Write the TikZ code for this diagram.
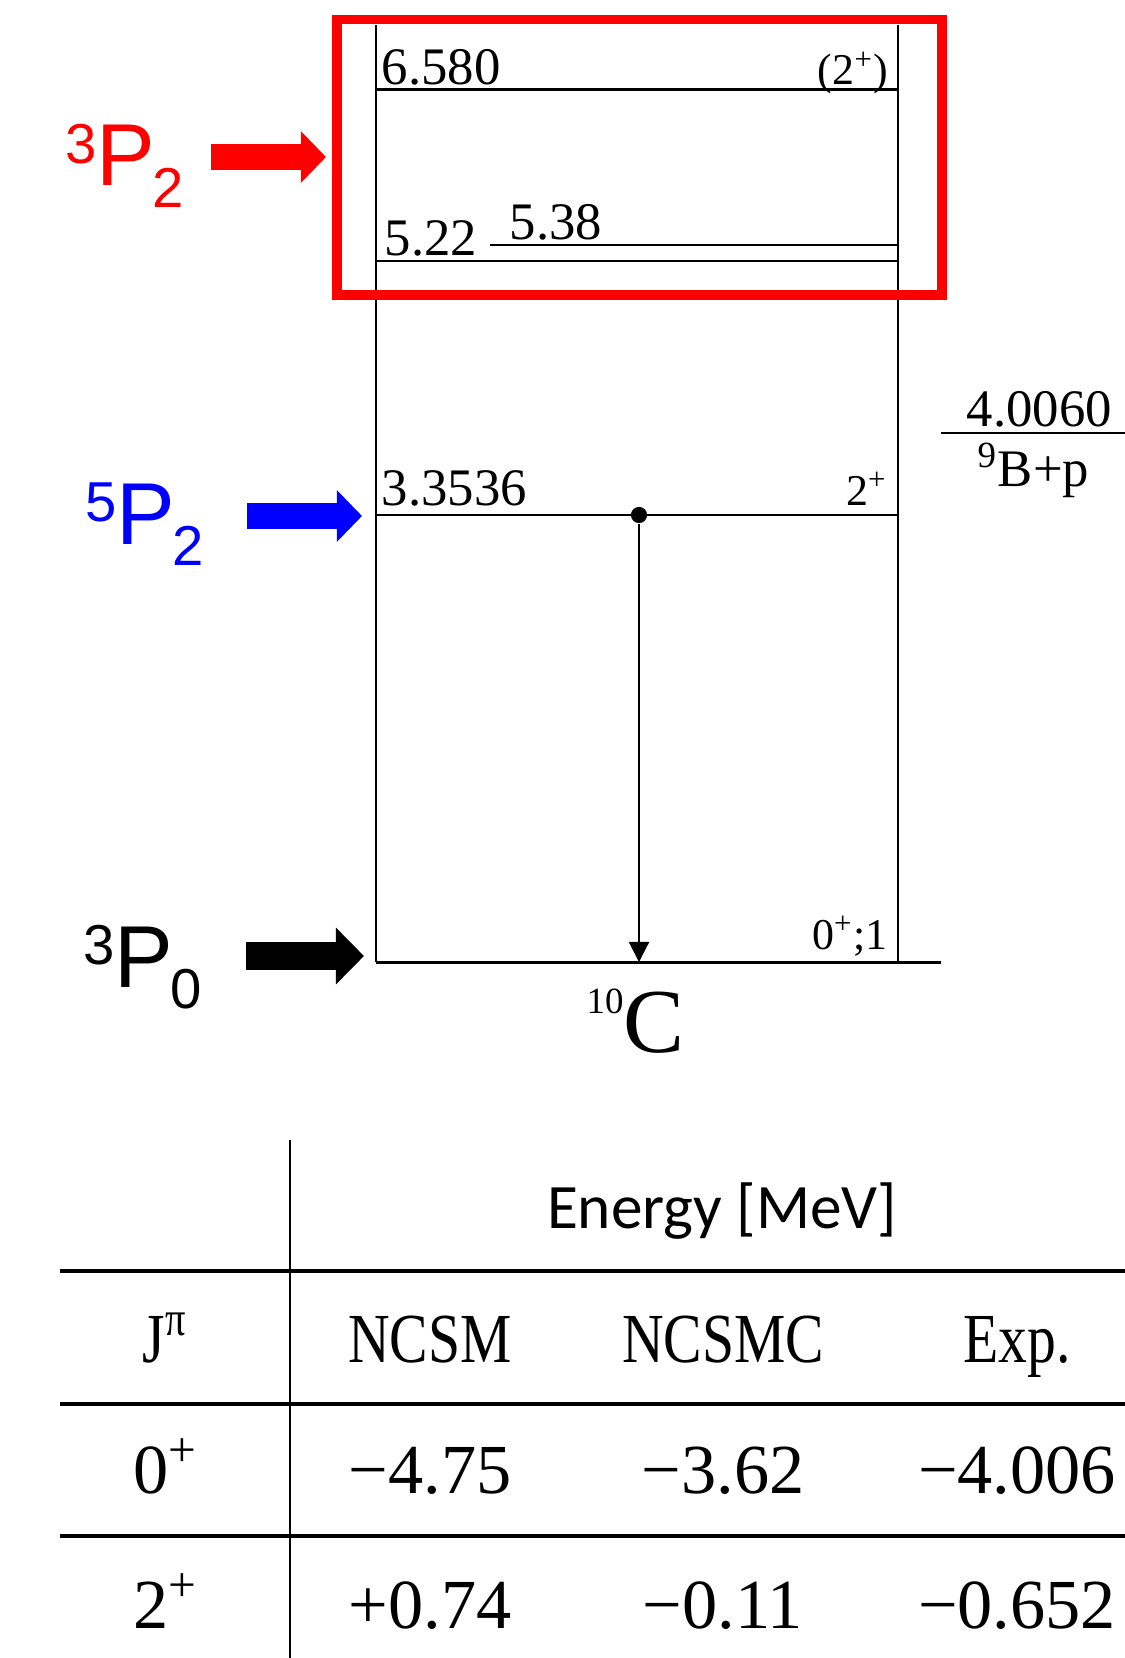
\documentclass[tikz,border=0pt]{standalone}
\usepackage{fontspec}
\setmainfont{Liberation Serif}
\newfontfamily\arialfont{Liberation Sans}
\newfontfamily\calfont{Carlito}
\newfontfamily\narrowfont[FakeStretch=0.82]{Liberation Serif}
\usetikzlibrary{arrows.meta}

% spectroscopic term: superscript, letter, subscript
\newcommand{\termsym}[3]{{\arialfont\raisebox{6.5pt}{\fontsize{16}{16}\selectfont #1}{\fontsize{25}{28}\selectfont #2}\kern-0.8pt\raisebox{-6pt}{\fontsize{16}{16}\selectfont #3}}}

\begin{document}
\begin{tikzpicture}[x=0.01cm, y=-0.01cm,
    lvl/.style={line width=0.85pt},
    side/.style={line width=0.6pt},
    elab/.style={inner sep=0, font=\fontsize{15}{18}\selectfont},
    jlab/.style={inner sep=0, anchor=base east, font=\fontsize{12.5}{15}\selectfont},
    term/.style={inner sep=0, anchor=base west},
    fat/.style={line width=0.26cm, -{Triangle[length=0.25cm, width=0.5cm]}},
    cell/.style={inner sep=0, anchor=base, font=\fontsize{20}{24}\selectfont},
    hrule/.style={line width=0.9pt}]
    \useasboundingbox (0,0) rectangle (1125,1658);

    % Level scheme frame
    \draw[side] (376,25) -- (376,962);
    \draw[side] (898,25) -- (898,962);

    % Levels
    \draw[lvl] (376,90) -- (898,90);
    \draw[lvl] (490,245) -- (898,245);
    \draw[lvl] (376,261) -- (898,261);
    \draw[lvl] (376,515) -- (898,515);
    \draw[lvl] (376,962) -- (941,962);
    \draw[lvl] (941,433) -- (1125,433);

    % Level energies and spins
    \node[elab, anchor=base west] (e6580) at (381,85) {6.580};
    \node[jlab] (j6580) at (889,85) {(2\textsuperscript{+})};
    \node[elab, anchor=base west] (e538) at (509,240) {5.38};
    \node[elab, anchor=base west] (e522) at (384,256) {5.22};
    \node[elab, anchor=base west] (e3354) at (381,505) {3.3536};
    \node[jlab] (j3354) at (888,505) {2\textsuperscript{+}};
    \node[jlab] (jgs) at (888,949) {0\textsuperscript{+};1};
    \node[elab, anchor=base west] (ethr) at (966,426) {4.0060};
    \node[elab, anchor=base west] (thr) at (977,486) {\textsuperscript{9}B+p};
    \node[inner sep=0, anchor=base west] (nucl) at (586,1052)
      {{\fontsize{10.5}{11}\selectfont\raisebox{11pt}{10}}{\fontsize{26}{30}\selectfont C}};

    % Gamma transition
    \node[circle, fill, inner sep=0, minimum size=4.6pt] (gdot) at (639,515) {};
    \coordinate (gend) at (639,962);
    \draw[side, -{Triangle[length=0.2cm, width=0.2cm]}] (gdot) -- (gend);

    % Highlight box
    \draw[red, line width=2.6pt] (337,19.5) rectangle (942,295);

    % Term labels and arrows
    \node[term, red] (tp2) at (65,186) {\termsym{3}{P}{2}};
    \coordinate (tp2a) at (211,157);
    \coordinate (tp2b) at (326,157);
    \draw[fat, red] (tp2a) -- (tp2b);

    \node[term, blue] (qp2) at (85,544) {\termsym{5}{P}{2}};
    \coordinate (qp2a) at (247,516);
    \coordinate (qp2b) at (362,516);
    \draw[fat, blue] (qp2a) -- (qp2b);

    \node[term] (tp0) at (83,987) {\termsym{3}{P}{0}};
    \coordinate (tp0a) at (246,956);
    \coordinate (tp0b) at (364,956);
    \draw[fat, line width=0.28cm, -{Triangle[length=0.28cm, width=0.55cm]}] (tp0a) -- (tp0b);

    % Table
    \draw[side, line width=0.7pt] (290,1140) -- (290,1658);
    \draw[hrule] (60,1271) -- (1125,1271);
    \draw[hrule] (60,1404) -- (1125,1404);
    \draw[hrule] (60,1536) -- (1125,1536);

    \node[inner sep=0, anchor=base, font=\calfont\fontsize{18}{22}\selectfont]
      (ehead) at (722,1228) {Energy [MeV]};

    \node[cell] (hj) at (165,1362) {\narrowfont J\textsuperscript{π}};
    \node[cell] (hncsm) at (430,1362) {\narrowfont NCSM};
    \node[cell] (hncsmc) at (723,1362) {\narrowfont NCSMC};
    \node[cell] (hexp) at (1017,1362) {\narrowfont Exp.};

    \node[cell] (j0) at (166,1493) {0\textsuperscript{+}};
    \node[cell] (a0) at (430,1493) {−4.75};
    \node[cell] (b0) at (723,1493) {−3.62};
    \node[cell] (c0) at (1017,1493) {−4.006};

    \node[cell] (j2) at (166,1628) {2\textsuperscript{+}};
    \node[cell] (a2) at (430,1628) {+0.74};
    \node[cell] (b2) at (723,1628) {−0.11};
    \node[cell] (c2) at (1017,1628) {−0.652};
  \end{tikzpicture}
\end{document}
